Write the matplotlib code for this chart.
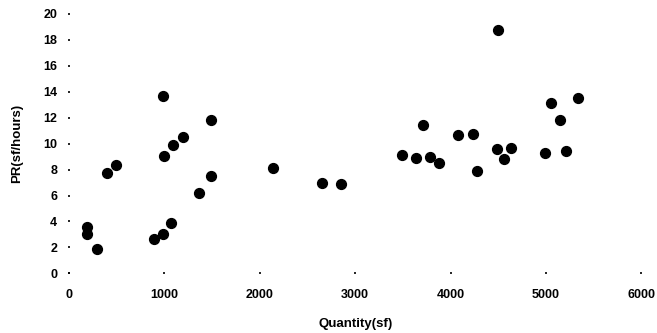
import numpy as np
import matplotlib.pyplot as plt

plt.rcParams['font.family'] = ['Liberation Sans', 'DejaVu Sans']

# Quantity (sf) vs production rate (sf/hours)
quantity = [192, 192, 293, 395, 493, 989, 992, 1087, 1192, 894, 982, 1066,
            1366, 1485, 1485, 2135, 2655, 2851, 3494, 3637, 3714, 3781, 3878,
            4074, 4231, 4273, 4493, 4486, 4560, 4633, 4990, 5056, 5147, 5210,
            5332]
pr = [3.6, 3.0, 1.88, 7.72, 8.39, 13.67, 9.08, 9.86, 10.5, 2.67, 3.06, 3.9,
      6.18, 7.5, 11.84, 8.13, 7.0, 6.92, 9.16, 8.9, 11.43, 8.96, 8.54,
      10.66, 10.78, 7.88, 18.8, 9.6, 8.83, 9.7, 9.29, 13.15, 11.81, 9.44,
      13.51]

x_ticks = [0, 1000, 2000, 3000, 4000, 5000, 6000]
y_ticks = [0, 2, 4, 6, 8, 10, 12, 14, 16, 18, 20]

fig = plt.figure(figsize=(6.57, 3.33), dpi=100)
ax = fig.add_axes([69 / 657, (333 - 273.3) / 333, (641.3 - 69) / 657, (273.3 - 14) / 333])

ax.scatter(quantity, pr, s=50, c='black', edgecolors='black', zorder=3, clip_on=False)

ax.set_xlim(0, 6000)
ax.set_ylim(0, 20)
ax.set_xticks(x_ticks)
ax.set_yticks(y_ticks)
for s in ax.spines.values():
    s.set_visible(False)
ax.tick_params(axis='both', length=1.2, width=1.2, direction='inout', colors='black',
               labelsize=9)
ax.tick_params(axis='x', pad=11)
ax.tick_params(axis='y', pad=8)
for lab in ax.get_xticklabels() + ax.get_yticklabels():
    lab.set_fontweight('bold')

ax.set_xlabel('Quantity(sf)', fontsize=9.5, fontweight='bold', labelpad=12)
ax.set_ylabel('PR(sf/hours)', fontsize=9.5, fontweight='bold', labelpad=14)

fig.savefig('out.png', dpi=100)
